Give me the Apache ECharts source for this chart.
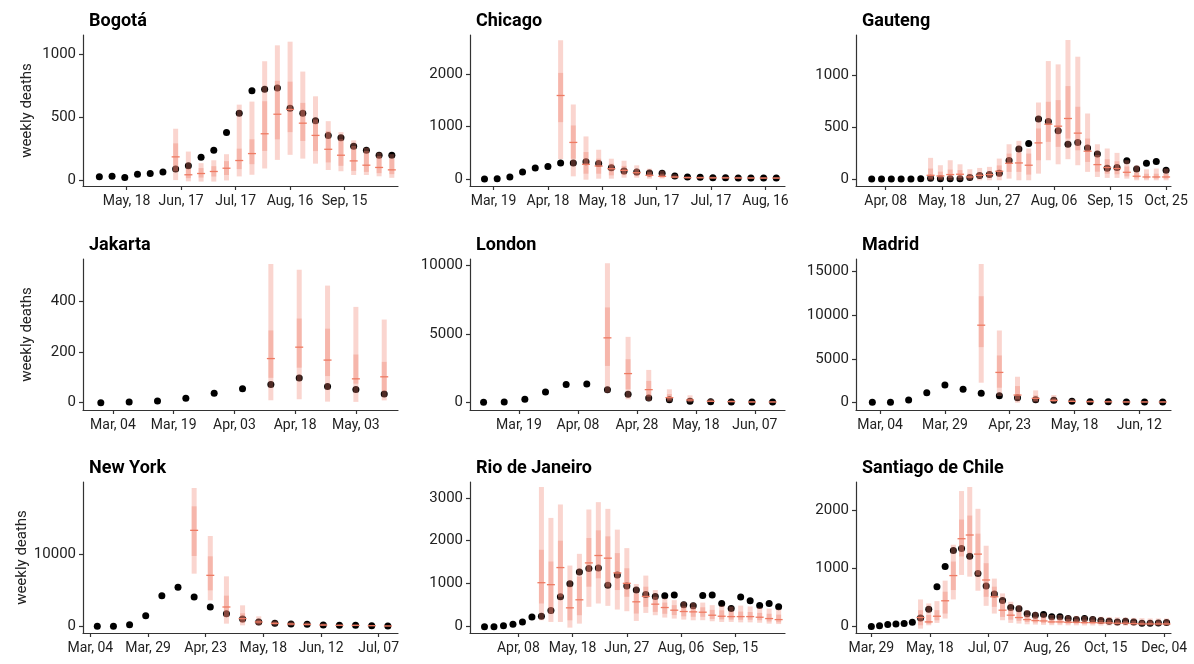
<!DOCTYPE html>
<html>
<head>
<meta charset="utf-8">
<script src="https://cdn.jsdelivr.net/npm/echarts@6/dist/echarts.min.js"></script>
<style>
  html, body { margin: 0; padding: 0; background: #fff; }
  #chart { width: 1194px; height: 664px; }
</style>
</head>
<body>
<div id="chart"></div>
<script>
// Weekly observed deaths (dots) and model estimates per week:
// each estimate row is [lo95, lo50, median, hi50, hi95].

const bogotaStart = '2020-05-03';
const bogotaDeaths = [26, 31, 21, 47, 52, 63, 87, 113, 181, 236, 378, 530, 709, 719, 730, 570, 530, 470, 354, 336, 268, 236, 197, 197];
const bogotaEstStart = '2020-06-14';
const bogotaEstimates = [
  [0, 70, 184, 291, 407], [-10, 15, 42, 90, 226], [-12, 20, 52, 95, 134], [-12, 28, 68, 110, 157],
  [-3, 40, 94, 150, 205], [29, 87, 155, 249, 598], [42, 126, 210, 323, 622], [92, 231, 367, 625, 942],
  [160, 323, 522, 787, 1068], [200, 380, 560, 780, 1097], [170, 310, 451, 612, 860], [130, 230, 354, 480, 664],
  [80, 140, 244, 388, 467], [70, 113, 197, 323, 380], [40, 73, 152, 270, 315], [40, 65, 118, 231, 257],
  [30, 55, 100, 190, 218], [18, 47, 81, 170, 205]
];
const bogotaTicks = ['2020-05-18', '2020-06-17', '2020-07-17', '2020-08-16', '2020-09-15'];
const bogotaYTicks = [0, 500, 1000];

const chicagoStart = '2020-03-14';
const chicagoDeaths = [0, 6, 38, 133, 209, 240, 304, 304, 329, 297, 215, 152, 133, 114, 108, 57, 38, 32, 25, 25, 19, 19, 19, 19];
const chicagoEstStart = '2020-04-25';
const chicagoEstimates = [
  [380, 1082, 1589, 2019, 2640], [51, 386, 696, 1019, 1418], [-13, 101, 280, 513, 810], [6, 101, 247, 386, 557],
  [6, 70, 196, 291, 386], [25, 75, 165, 250, 348], [25, 60, 120, 190, 260], [6, 35, 70, 130, 196],
  [10, 28, 51, 100, 160], [10, 22, 38, 60, 90], [5, 15, 27, 38, 55], [5, 14, 25, 36, 50],
  [4, 12, 22, 32, 46], [4, 12, 22, 32, 45], [3, 11, 20, 30, 42], [3, 10, 19, 28, 40],
  [3, 10, 18, 27, 38], [3, 10, 18, 26, 36]
];
const chicagoTicks = ['2020-03-19', '2020-04-18', '2020-05-18', '2020-06-17', '2020-07-17', '2020-08-16'];
const chicagoYTicks = [0, 1000, 2000];

const gautengStart = '2020-03-29';
const gautengDeaths = [0, 0, 0, 0, 0, 3, 6, 3, 3, 3, 13, 32, 42, 55, 177, 289, 341, 576, 553, 463, 334, 350, 299, 241, 103, 109, 174, 96, 151, 167, 84];
const gautengEstStart = '2020-05-10';
const gautengEstimates = [
  [-13, 3, 35, 100, 203], [-13, 5, 29, 70, 132], [-13, 10, 42, 90, 180], [-13, 10, 45, 85, 141],
  [-13, 3, 19, 50, 93], [-13, 8, 35, 65, 106], [-13, 10, 42, 75, 116], [-13, 20, 74, 130, 196],
  [3, 68, 151, 244, 334], [-13, 68, 154, 254, 367], [-13, 42, 132, 244, 293], [51, 180, 347, 486, 736],
  [180, 357, 527, 743, 1135], [141, 309, 508, 759, 1103], [190, 389, 582, 894, 1338], [132, 276, 441, 695, 1177],
  [68, 164, 267, 389, 630], [19, 70, 138, 230, 334], [10, 50, 110, 190, 293], [10, 45, 100, 170, 251],
  [3, 25, 64, 120, 180], [-13, 5, 26, 60, 130], [-13, 3, 19, 50, 93], [-13, 3, 19, 50, 100],
  [-13, 3, 19, 50, 100]
];
const gautengTicks = ['2020-04-08', '2020-05-18', '2020-06-27', '2020-08-06', '2020-09-15', '2020-10-25'];
const gautengYTicks = [0, 500, 1000];

const jakartaStart = '2020-03-01';
const jakartaDeaths = [0, 3, 7, 17, 37, 55, 72, 97, 64, 52, 34];
const jakartaEstStart = '2020-04-12';
const jakartaEstimates = [
  [9, 98, 174, 285, 547], [13, 138, 219, 332, 525], [4, 105, 168, 292, 462],
  [3, 75, 94, 190, 378], [9, 46, 102, 161, 328]
];
const jakartaTicks = ['2020-03-04', '2020-03-19', '2020-04-03', '2020-04-18', '2020-05-03'];
const jakartaYTicks = [0, 200, 400];

const londonStart = '2020-03-07';
const londonDeaths = [0, 24, 220, 756, 1293, 1341, 927, 585, 317, 195, 73, 49, 24, 24, 24];
const londonEstStart = '2020-04-18';
const londonEstimates = [
  [707, 2659, 4707, 6927, 10146], [220, 951, 2098, 3146, 4780], [98, 415, 927, 1561, 2366],
  [49, 150, 341, 600, 951], [0, 60, 170, 300, 512], [10, 40, 73, 140, 250],
  [5, 25, 49, 90, 160], [3, 12, 24, 50, 100], [3, 12, 24, 45, 90]
];
const londonTicks = ['2020-03-19', '2020-04-08', '2020-04-28', '2020-05-18', '2020-06-07'];
const londonYTicks = [0, 5000, 10000];

const madridStart = '2020-03-01';
const madridDeaths = [0, 0, 267, 1107, 1985, 1489, 1031, 763, 534, 305, 229, 115, 76, 76, 38, 38, 38];
const madridEstStart = '2020-04-12';
const madridEstimates = [
  [2252, 6336, 8855, 12176, 15878], [725, 1679, 3435, 5382, 8244], [-38, 344, 840, 1870, 2939],
  [0, 150, 458, 800, 1374], [0, 80, 229, 450, 840], [10, 50, 115, 220, 400],
  [5, 30, 76, 140, 260], [5, 25, 60, 110, 200], [3, 15, 40, 80, 150],
  [3, 15, 40, 80, 140], [3, 15, 40, 75, 130]
];
const madridTicks = ['2020-03-04', '2020-03-29', '2020-04-23', '2020-05-18', '2020-06-12'];
const madridYTicks = [0, 5000, 10000, 15000];

const newYorkStart = '2020-03-07';
const newYorkDeaths = [0, 0, 230, 1475, 4240, 5392, 4055, 2673, 1751, 1014, 599, 415, 323, 276, 184, 138, 138, 92, 46];
const newYorkEstStart = '2020-04-18';
const newYorkEstimates = [
  [7281, 9724, 13272, 16590, 19124], [3594, 4977, 7051, 9677, 12488], [369, 1290, 2673, 4240, 6912],
  [138, 500, 1060, 1800, 2903], [138, 300, 600, 900, 1382], [100, 250, 415, 600, 800],
  [80, 180, 320, 450, 650], [60, 150, 270, 380, 550], [40, 100, 180, 280, 400],
  [30, 80, 135, 210, 300], [30, 75, 130, 200, 280], [20, 50, 90, 140, 200],
  [10, 25, 45, 80, 120]
];
const newYorkTicks = ['2020-03-04', '2020-03-29', '2020-04-23', '2020-05-18', '2020-06-12', '2020-07-07'];
const newYorkYTicks = [0, 10000];

const rioStart = '2020-03-14';
const rioDeaths = [0, 0, 23, 55, 109, 227, 242, 375, 695, 1000, 1273, 1352, 1367, 961, 1203, 945, 852, 750, 703, 719, 734, 508, 484, 727, 734, 539, 422, 688, 602, 492, 539, 461];
const rioEstStart = '2020-04-25';
const rioEstimates = [
  [148, 539, 1023, 1789, 3250], [109, 305, 977, 1516, 2531], [109, 695, 1375, 2000, 2844],
  [-23, 148, 438, 930, 1422], [70, 266, 625, 1164, 1695], [461, 930, 1484, 2063, 2727],
  [539, 1125, 1656, 2242, 2898], [484, 930, 1594, 2102, 2742], [398, 852, 1250, 1711, 2258],
  [359, 695, 1008, 1359, 1828], [133, 305, 578, 773, 992], [320, 461, 703, 930, 1188],
  [266, 344, 523, 695, 852], [211, 300, 445, 560, 656], [188, 270, 383, 500, 617],
  [164, 240, 352, 470, 578], [148, 230, 344, 460, 555], [150, 230, 336, 450, 560],
  [125, 180, 266, 390, 500], [109, 170, 242, 380, 484], [110, 165, 234, 350, 470],
  [100, 160, 234, 350, 490], [100, 160, 234, 340, 470], [90, 150, 219, 320, 440],
  [70, 120, 188, 300, 420], [60, 100, 164, 280, 400]
];
const rioTicks = ['2020-04-08', '2020-05-18', '2020-06-27', '2020-08-06', '2020-09-15'];
const rioYTicks = [0, 1000, 2000, 3000];

const santiagoStart = '2020-03-29';
const santiagoDeaths = [0, 17, 35, 46, 52, 75, 150, 301, 688, 1035, 1312, 1347, 1214, 913, 699, 561, 451, 329, 306, 220, 197, 208, 168, 168, 139, 121, 139, 121, 104, 92, 81, 92, 81, 58, 58, 64, 69];
const santiagoEstStart = '2020-05-10';
const santiagoEstimates = [
  [-35, 23, 156, 283, 468], [23, 50, 81, 200, 399], [64, 110, 179, 283, 439], [139, 225, 445, 601, 792],
  [468, 630, 879, 1121, 1410], [890, 1208, 1514, 1844, 2335], [861, 1266, 1578, 1913, 2405], [618, 890, 1249, 1601, 2029],
  [358, 514, 803, 1092, 1393], [225, 341, 514, 688, 827], [110, 168, 283, 457, 572], [64, 120, 197, 300, 428],
  [52, 100, 156, 250, 370], [40, 80, 121, 200, 283], [35, 70, 104, 170, 250], [30, 60, 98, 160, 230],
  [25, 55, 81, 140, 200], [25, 55, 81, 140, 200], [22, 50, 75, 130, 190], [22, 50, 75, 125, 185],
  [20, 48, 69, 120, 180], [20, 48, 69, 120, 175], [18, 45, 64, 115, 170], [18, 45, 64, 110, 165],
  [16, 40, 58, 105, 160], [16, 40, 58, 100, 155], [15, 38, 52, 95, 150], [14, 35, 46, 90, 145],
  [14, 35, 46, 90, 140], [14, 35, 46, 88, 140], [14, 35, 46, 88, 140]
];
const santiagoTicks = ['2020-03-29', '2020-05-18', '2020-07-07', '2020-08-26', '2020-10-15', '2020-12-04'];
const santiagoYTicks = [0, 1000, 2000];

// ---- helpers -------------------------------------------------------------
const DAY = 86400000;
const YEAR0 = Date.UTC(2020, 0, 1);
function dayNum(iso) {
  const [y, m, d] = iso.split('-').map(Number);
  return Math.round((Date.UTC(y, m - 1, d) - YEAR0) / DAY);
}
const MONTHS = ['Jan', 'Feb', 'Mar', 'Apr', 'May', 'Jun', 'Jul', 'Aug', 'Sep', 'Oct', 'Nov', 'Dec'];
function dayLabel(n) {
  const dt = new Date(YEAR0 + n * DAY);
  const d = dt.getUTCDate();
  return MONTHS[dt.getUTCMonth()] + ', ' + (d < 10 ? '0' + d : d);
}

// ---- panel layout --------------------------------------------------------
const panels = [
  { title: 'Bogotá', start: bogotaStart, deaths: bogotaDeaths, estStart: bogotaEstStart, est: bogotaEstimates, ticks: bogotaTicks, yTicks: bogotaYTicks, x: [114, 287.4], y: [-47, 1150] },
  { title: 'Chicago', start: chicagoStart, deaths: chicagoDeaths, estStart: chicagoEstStart, est: chicagoEstimates, ticks: chicagoTicks, yTicks: chicagoYTicks, x: [65, 238.8], y: [-133, 2740] },
  { title: 'Gauteng', start: gautengStart, deaths: gautengDeaths, estStart: gautengEstStart, est: gautengEstimates, ticks: gautengTicks, yTicks: gautengYTicks, x: [76.8, 301.5], y: [-68, 1386] },
  { title: 'Jakarta', start: jakartaStart, deaths: jakartaDeaths, estStart: jakartaEstStart, est: jakartaEstimates, ticks: jakartaTicks, yTicks: jakartaYTicks, x: [55.6, 133.4], y: [-29, 567] },
  { title: 'London', start: londonStart, deaths: londonDeaths, estStart: londonEstStart, est: londonEstimates, ticks: londonTicks, yTicks: londonYTicks, x: [61.4, 168.2], y: [-560, 10463] },
  { title: 'Madrid', start: madridStart, deaths: madridDeaths, estStart: madridEstStart, est: madridEstimates, ticks: madridTicks, yTicks: madridYTicks, x: [53.7, 175.2], y: [-878, 16450] },
  { title: 'New York', start: newYorkStart, deaths: newYorkDeaths, estStart: newYorkEstStart, est: newYorkEstimates, ticks: newYorkTicks, yTicks: newYorkYTicks, x: [59.8, 196.4], y: [-922, 19954] },
  { title: 'Rio de Janeiro', start: rioStart, deaths: rioDeaths, estStart: rioEstStart, est: rioEstimates, ticks: rioTicks, yTicks: rioYTicks, x: [62.3, 294.7], y: [-148, 3367] },
  { title: 'Santiago de Chile', start: santiagoStart, deaths: santiagoDeaths, estStart: santiagoEstStart, est: santiagoEstimates, ticks: santiagoTicks, yTicks: santiagoYTicks, x: [74.9, 343.8], y: [-110, 2491] }
];

const COL_LEFT = [83, 470, 856];
const ROW_TOP = [35, 259, 482];
const GRID_W = 315;
const GRID_H = 151;

const FONT = 'Roboto, "Open Sans", sans-serif';
const AXIS_COLOR = '#333';
const TEXT_COLOR = '#222';
const OUTER_FILL = 'rgba(239, 128, 108, 0.33)';
const INNER_FILL = 'rgba(239, 128, 108, 0.36)';
const MEDIAN_COLOR = '#ee7b63';

function renderInterval(params, api) {
  const x = api.value(0);
  const lo95 = api.coord([x, api.value(1)]);
  const lo50 = api.coord([x, api.value(2)]);
  const med = api.coord([x, api.value(3)]);
  const hi50 = api.coord([x, api.value(4)]);
  const hi95 = api.coord([x, api.value(5)]);
  const w = 5;
  const mw = 8;
  return {
    type: 'group',
    children: [
      { type: 'rect', shape: { x: lo95[0] - w / 2, y: hi95[1], width: w, height: lo95[1] - hi95[1] }, style: { fill: OUTER_FILL } },
      { type: 'rect', shape: { x: lo50[0] - w / 2, y: hi50[1], width: w, height: lo50[1] - hi50[1] }, style: { fill: INNER_FILL } },
      { type: 'line', shape: { x1: med[0] - mw / 2, y1: med[1], x2: med[0] + mw / 2, y2: med[1] }, style: { stroke: MEDIAN_COLOR, lineWidth: 1.3 } }
    ]
  };
}

const grid = [], xAxis = [], yAxis = [], series = [], title = [];

panels.forEach((p, i) => {
  const col = i % 3, row = Math.floor(i / 3);
  grid.push({ left: COL_LEFT[col], top: ROW_TOP[row], width: GRID_W, height: GRID_H, containLabel: false, outerBoundsMode: 'none' });

  title.push({
    text: p.title,
    left: COL_LEFT[col] + 1,
    top: ROW_TOP[row] - 28,
    textStyle: { fontFamily: FONT, fontWeight: 'bold', fontSize: 18, color: '#000' }
  });

  const tickDays = p.ticks.map(dayNum);
  xAxis.push({
    type: 'value', gridIndex: i, min: p.x[0], max: p.x[1],
    splitLine: { show: false },
    axisLine: { show: true, onZero: false, lineStyle: { color: AXIS_COLOR, width: 1.2 } },
    axisTick: { show: true, length: 4, customValues: tickDays, lineStyle: { color: AXIS_COLOR, width: 1.2 } },
    axisLabel: { show: true, customValues: tickDays, formatter: v => dayLabel(Math.round(v)), margin: 8, fontFamily: FONT, fontSize: 14, color: TEXT_COLOR }
  });

  yAxis.push({
    type: 'value', gridIndex: i, min: p.y[0], max: p.y[1],
    name: col === 0 ? 'weekly deaths' : '',
    nameLocation: 'middle', nameGap: 48, nameRotate: 90,
    nameTextStyle: { fontFamily: FONT, fontSize: 15, color: TEXT_COLOR },
    splitLine: { show: false },
    axisLine: { show: true, onZero: false, lineStyle: { color: AXIS_COLOR, width: 1.2 } },
    axisTick: { show: true, length: 4, customValues: p.yTicks, lineStyle: { color: AXIS_COLOR, width: 1.2 } },
    axisLabel: { show: true, customValues: p.yTicks, formatter: v => String(Math.round(v)), margin: 7, fontFamily: FONT, fontSize: 15, color: TEXT_COLOR }
  });

  const d0 = dayNum(p.start);
  series.push({
    type: 'scatter', xAxisIndex: i, yAxisIndex: i, z: 2,
    symbolSize: 7, itemStyle: { color: '#000', opacity: 1 },
    silent: true,
    data: p.deaths.map((v, k) => [d0 + 7 * k, v])
  });

  const e0 = dayNum(p.estStart);
  series.push({
    type: 'custom', xAxisIndex: i, yAxisIndex: i, z: 3,
    silent: true, clip: false,
    renderItem: renderInterval,
    encode: { x: 0, y: [1, 2, 3, 4, 5] },
    data: p.est.map((r, k) => [e0 + 7 * k, r[0], r[1], r[2], r[3], r[4]])
  });
});

const chart = echarts.init(document.getElementById('chart'), null, { renderer: 'canvas' });
chart.setOption({
  animation: false,
  backgroundColor: '#fff',
  title, grid, xAxis, yAxis, series
});
</script>
</body>
</html>
